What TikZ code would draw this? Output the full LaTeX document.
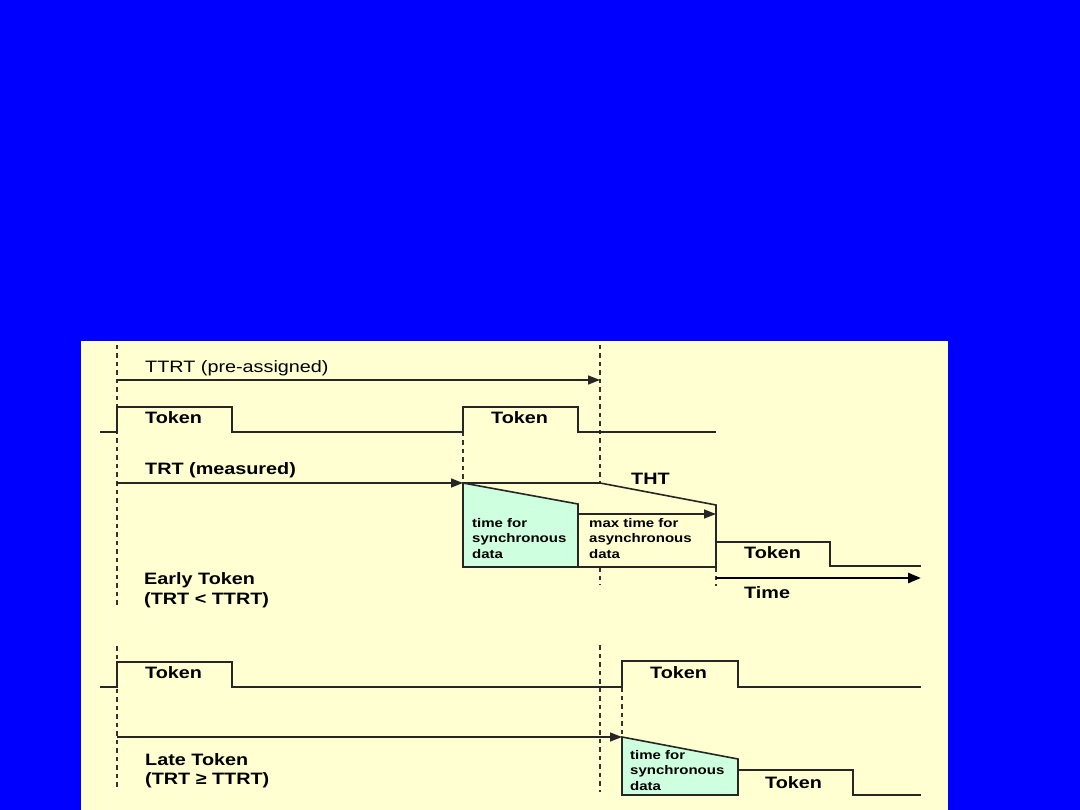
\documentclass[tikz,border=0pt]{standalone}
\usepackage{fontspec}
\setmainfont{Liberation Sans}[FakeStretch=1.2]
\usetikzlibrary{arrows.meta}
\definecolor{bgblue}{RGB}{0,0,255}
\definecolor{panel}{RGB}{255,255,210}
\definecolor{sync}{RGB}{206,255,222}
\begin{document}
\begin{tikzpicture}[x=1pt,y=-1pt,
  sig/.style={line width=1.6pt, black!85},
  dsh/.style={line width=1.3pt, dash pattern=on 4.5pt off 4pt, black!80},
  arr/.style={sig, -{Triangle[length=12pt,width=9pt]}},
  lbl/.style={anchor=base west, inner sep=0pt, font=\fontsize{16.5}{18}\selectfont\bfseries},
  lblr/.style={anchor=base west, inner sep=0pt, font=\fontsize{16.5}{18}\selectfont},
  small/.style={anchor=base west, inner sep=0pt, align=left, font=\fontsize{12.5}{15.2}\selectfont\bfseries},
]
% background
\fill[bgblue] (0,0) rectangle (1080,810);
\fill[panel] (81,341) rectangle (948,810);
\useasboundingbox (0,0) rectangle (1080,810);

% ---------- coordinates: upper (early token) ----------
\coordinate (u0) at (100,432);
\coordinate (u1) at (117,432);
\coordinate (u2) at (117,407);
\coordinate (u3) at (232,407);
\coordinate (u4) at (232,432);
\coordinate (u5) at (463,432);
\coordinate (u6) at (463,407);
\coordinate (u7) at (578,407);
\coordinate (u8) at (578,432);
\coordinate (u9) at (716,432);

\coordinate (ttrtS) at (117,380);
\coordinate (ttrtE) at (600,380);
\coordinate (trtS) at (117,483);
\coordinate (trtE) at (463,483);

\coordinate (gA) at (463,483);
\coordinate (gB) at (578,504);
\coordinate (gC) at (578,567);
\coordinate (gD) at (463,567);

\coordinate (thtA) at (600,483);
\coordinate (thtB) at (716,505);
\coordinate (thtC) at (716,567);

\coordinate (asyS) at (578,514);
\coordinate (asyE) at (716,514);

\coordinate (t2a) at (716,542);
\coordinate (t2b) at (830,542);
\coordinate (t2c) at (830,566);
\coordinate (t2d) at (921,566);

\coordinate (timeS) at (716,578);
\coordinate (timeE) at (921,578);

% ---------- coordinates: lower (late token) ----------
\coordinate (l0) at (100,687);
\coordinate (l1) at (117,687);
\coordinate (l2) at (117,662);
\coordinate (l3) at (232,662);
\coordinate (l4) at (232,687);
\coordinate (l5) at (622,687);
\coordinate (l6) at (622,661);
\coordinate (l7) at (738,661);
\coordinate (l8) at (738,687);
\coordinate (l9) at (921,687);

\coordinate (ltrtS) at (117,737);
\coordinate (ltrtE) at (622,737);

\coordinate (hA) at (622,737);
\coordinate (hB) at (738,759);
\coordinate (hC) at (738,795);
\coordinate (hD) at (622,795);

\coordinate (t3a) at (738,770);
\coordinate (t3b) at (853,770);
\coordinate (t3c) at (853,795);
\coordinate (t3d) at (921,795);

% ---------- dashed reference lines ----------
\coordinate (d1a) at (117,345); \coordinate (d1b) at (117,607);
\coordinate (d2a) at (117,646); \coordinate (d2b) at (117,790);
\coordinate (d3a) at (600,345); \coordinate (d3c) at (600,567); \coordinate (d3d) at (600,585);
\coordinate (d4a) at (600,645); \coordinate (d4b) at (600,792);
\coordinate (d6b) at (716,586);
\draw[dsh] (d1a) -- (d1b);
\draw[dsh] (d2a) -- (d2b);
\draw[dsh] (d3a) -- (thtA);
\draw[dsh] (d3c) -- (d3d);
\draw[dsh] (d4a) -- (d4b);
\draw[dsh] (u5) -- (gA);
\draw[dsh] (l5) -- (hA);
\draw[dsh] (thtC) -- (d6b);

% ---------- upper signals ----------
\draw[sig] (u0) -- (u1) -- (u2) -- (u3) -- (u4) -- (u5) -- (u6) -- (u7) -- (u8) -- (u9);
\draw[arr] (ttrtS) -- (ttrtE);
\draw[arr] (trtS) -- (trtE);
\draw[sig, fill=sync] (gA) -- (gB) -- (gC) -- (gD) -- cycle;
\draw[sig] (gA) -- (thtA) -- (thtB) -- (thtC) -- (gC);
\draw[arr] (asyS) -- (asyE);
\draw[sig] (thtC) -- (t2a) -- (t2b) -- (t2c) -- (t2d);
\draw[line width=2.6pt, black, -{Triangle[length=13pt,width=10pt]}] (timeS) -- (timeE);

% ---------- lower signals ----------
\draw[sig] (l0) -- (l1) -- (l2) -- (l3) -- (l4) -- (l5) -- (l6) -- (l7) -- (l8) -- (l9);
\draw[arr] (ltrtS) -- (ltrtE);
\draw[sig, fill=sync] (hA) -- (hB) -- (hC) -- (hD) -- cycle;
\draw[sig] (t3a) -- (t3b) -- (t3c) -- (t3d);

% ---------- labels ----------
\node[lblr] (ttrt) at (145,373) {TTRT (pre-assigned)};
\node[lbl] (tok1) at (145,424) {Token};
\node[lbl] (tok2) at (491,424) {Token};
\node[lbl] (trt) at (145,475) {TRT (measured)};
\node[lbl] (tht) at (631,484) {THT};
\node[small] (syn1) at (472,558) {time for\\synchronous\\data};
\node[small] (asy) at (589,558) {max time for\\asynchronous\\data};
\node[lbl] (tok3) at (744,558) {Token};
\node[lbl] (time) at (744,598) {Time};
\node[lbl] (early1) at (144,584) {Early Token};
\node[lbl] (early2) at (144,604) {(TRT < TTRT)};

\node[lbl] (tok4) at (145,678) {Token};
\node[lbl] (tok5) at (650,678) {Token};
\node[lbl] (late1) at (145,765) {Late Token};
\node[lbl] (late2) at (145,784) {(TRT ≥ TTRT)};
\node[small] (syn2) at (630,790) {time for\\synchronous\\data};
\node[lbl] (tok6) at (765,788) {Token};
\end{tikzpicture}
\end{document}
